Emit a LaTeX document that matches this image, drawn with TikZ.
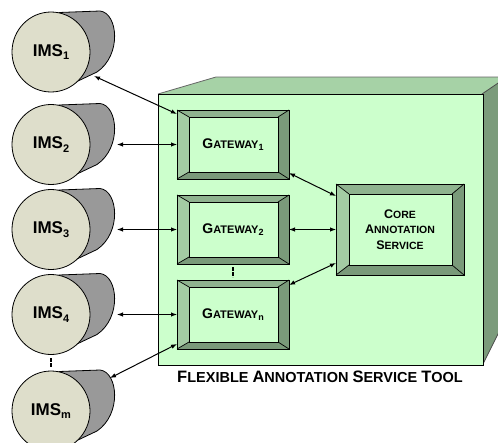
\documentclass[tikz,border=0pt]{standalone}
\usepackage{fontspec}
\setmainfont{Liberation Sans}
\usetikzlibrary{arrows.meta,shapes.geometric,fit,calc}
\definecolor{frontg}{HTML}{CCFFCC}
\definecolor{topg}{HTML}{A6D2A6}
\definecolor{sideg}{HTML}{7B9B7B}
\definecolor{bvlL}{HTML}{A4CCA4}
\definecolor{bvlT}{HTML}{8FB38F}
\definecolor{bvlD}{HTML}{7A9A7A}
\definecolor{cylf}{HTML}{DEDECB}
\definecolor{cylb}{HTML}{999999}

\newcommand{\fsc}[4]{{\fontsize{#1}{#1}\selectfont #3}{\fontsize{#2}{#2}\selectfont #4}}
\newcommand{\sbs}[3]{\raisebox{-#2pt}{\fontsize{#1}{#1}\selectfont #3}}

\newcommand{\cyl}[4]{%
  \filldraw[fill=cylb,draw=black,line width=0.8pt] (#2+8,#3-39.5) -- (#2+49,#3-41) .. controls (#2+67,#3-39) and (#2+71,#3+3) .. (#2+46,#3+20) -- (#2+27,#3+29) -- cycle;
  \node[ellipse, draw=black, line width=0.8pt, fill=cylf, minimum width=78pt, minimum height=80pt, inner sep=0] (#1-f) at (#2,#3) {};
  \node[ellipse, minimum width=106pt, minimum height=82pt, inner sep=0, outer sep=0] (#1) at (#2+13,#3) {};
  \node[font=\bfseries\fontsize{17}{17}\selectfont, inner sep=0] (#1-t) at (#2,#3) {#4};
}

\newcommand{\bev}[9]{%
  \fill[frontg] (#2,#3) rectangle (#4,#5);
  \fill[bvlL] (#2,#3) -- (#2+#6,#3+#7) -- (#2+#6,#5-#9) -- (#2,#5) -- cycle;
  \fill[bvlT] (#2,#3) -- (#4,#3) -- (#4-#8,#3+#7) -- (#2+#6,#3+#7) -- cycle;
  \fill[bvlD] (#4,#3) -- (#4,#5) -- (#4-#8,#5-#9) -- (#4-#8,#3+#7) -- cycle;
  \fill[bvlD] (#2,#5) -- (#4,#5) -- (#4-#8,#5-#9) -- (#2+#6,#5-#9) -- cycle;
  \draw[line width=0.9pt] (#2+#6,#3+#7) rectangle (#4-#8,#5-#9);
  \draw[line width=0.7pt] (#2,#3) -- (#2+#6,#3+#7) (#4,#3) -- (#4-#8,#3+#7) (#4,#5) -- (#4-#8,#5-#9) (#2,#5) -- (#2+#6,#5-#9);
  \node[fit={(#2,#3) (#4,#5)}, inner sep=0, outer sep=0, draw, line width=0.9pt] (#1) {};
}

\tikzset{
  conn/.style={{Latex[length=6pt,width=4.5pt]}-{Latex[length=6pt,width=4.5pt]}, line width=1pt},
  dotsty/.style={line width=1.3pt, dash pattern=on 4pt off 1pt},
  lbl/.style={font=\bfseries, inner sep=0}
}

\begin{document}
\begin{tikzpicture}[x=1pt,y=-1pt]
\useasboundingbox (0,0) rectangle (498,442);
\clip (0,0) rectangle (498,442);

% Flexible Annotation Service Tool box
\fill[topg] (158,94) -- (216,77) -- (515,77) -- (482,94) -- cycle;
\draw[black!60, line width=0.8pt] (158,94) -- (216,77) -- (515,77);
\filldraw[fill=sideg, draw=black!70, line width=0.8pt] (482,94) -- (507,77) -- (507,316) -- (483,364) -- cycle;
\filldraw[fill=frontg, draw=black, line width=0.8pt] (158,94) rectangle (483,365);

% gateways and core
\bev{gw1}{177}{110}{289}{179}{12}{7}{11}{7}
\bev{gw2}{177}{195}{289}{264}{12}{7}{11}{7}
\bev{gwn}{177}{280}{289}{349}{12}{7}{11}{7}
\bev{core}{336}{184}{464}{275}{13}{10}{12}{10}

\node[lbl] (gw1-t) at (gw1) {\fsc{14}{11}{G}{ATEWAY}\sbs{9}{2}{1}};
\node[lbl] (gw2-t) at (gw2) {\fsc{14}{11}{G}{ATEWAY}\sbs{9}{2}{2}};
\node[lbl] (gwn-t) at (gwn) {\fsc{14}{11}{G}{ATEWAY}\sbs{9}{2}{n}};
\node[lbl, align=center, font=\bfseries\fontsize{10.5}{15.5}\selectfont] (core-t) at (core)
  {\fsc{12.5}{10.5}{C}{ORE}\\\fsc{12.5}{10.5}{A}{NNOTATION}\\\fsc{12.5}{10.5}{S}{ERVICE}};

% IMS cylinders
\cyl{ims1}{51}{52}{IMS\sbs{11}{3.5}{1}}
\cyl{ims2}{51}{144.5}{IMS\sbs{11}{3.5}{2}}
\cyl{ims3}{51}{229.5}{IMS\sbs{11}{3.5}{3}}
\cyl{ims4}{51}{314.5}{IMS\sbs{11}{3.5}{4}}
\cyl{imsm}{51}{411}{IMS\sbs{11}{3.5}{m}}

% connectors
\draw[conn] ($(ims1-f.center)+(43,24)$) -- ([yshift=-4pt]gw1.north west);
\draw[conn] (ims2.east) -- (gw1.west);
\draw[conn] (ims3.east) -- (gw2.west);
\draw[conn] (ims4.east) -- (gwn.west);
\draw[conn] ($(imsm-f.center)+(59,-33)$) -- ([yshift=5pt]gwn.south west);
\draw[conn] ([yshift=6pt]gw1.south east) -- ([yshift=-12pt]core.north west);
\draw[conn] (gw2.east) -- (core.west);
\draw[conn] ([yshift=-5pt]gwn.north east) -- ([yshift=12pt]core.south west);

% ellipsis marks
\draw[dotsty, shorten >=3.5pt, shorten <=3.5pt] (ims4-f.south) -- (imsm-f.north);
\draw[dotsty, shorten >=3pt, shorten <=3pt] (gw2.south) -- (gwn.north);

% title
\node[lbl, font=\bfseries\fontsize{14.5}{14.5}\selectfont] (title) at (320,377)
  {\fsc{16.5}{14.5}{F}{LEXIBLE} \fsc{16.5}{14.5}{A}{NNOTATION} \fsc{16.5}{14.5}{S}{ERVICE} \fsc{16.5}{14.5}{T}{OOL}};
\end{tikzpicture}
\end{document}
